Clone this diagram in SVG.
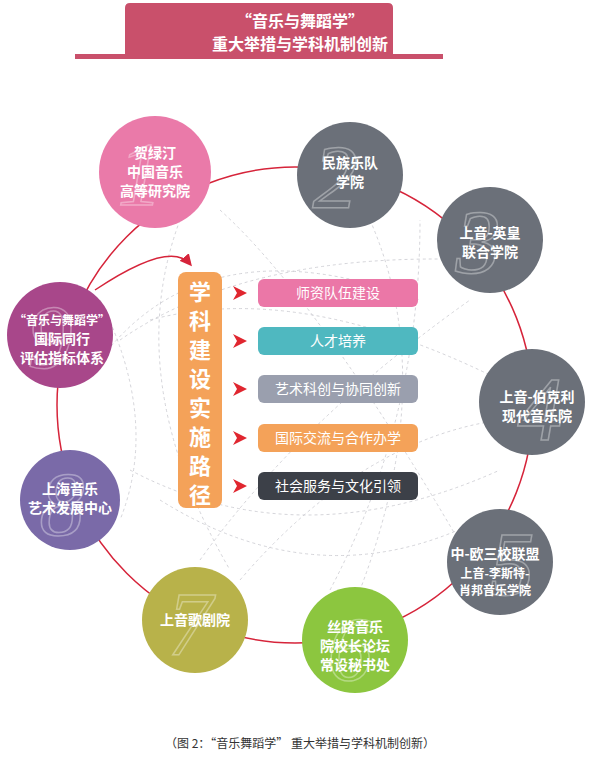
<svg xmlns="http://www.w3.org/2000/svg" width="600" height="765" viewBox="0 0 600 765">
<style>
text{font-family:"Noto Sans CJK SC","Liberation Sans",sans-serif;text-anchor:middle}
.nt{fill:#fff;font-size:14px;font-weight:bold}
.num{font-family:"Liberation Serif",serif;font-size:90px;font-style:italic;fill:none;stroke:#fff;stroke-opacity:.35;stroke-width:1.5}
.bt{fill:#fff;font-size:14px}
.dash{fill:none;stroke:#c9c9cf;stroke-width:.8;stroke-dasharray:3 3}
</style>
<defs><marker id="ah" markerWidth="8" markerHeight="8" refX="6" refY="4" orient="auto"><path d="M0,0 L8,4 L0,8 z" fill="#d6243a"/></marker></defs>
<rect width="600" height="765" fill="#fff"/>
<g id="title">
<path d="M125,58 V8 Q125,3 130,3 H388 Q393,3 393,8 V58 Z" fill="#c9506b"/>
<rect x="75" y="54" width="368" height="5" fill="#c9506b"/>
<text x="300" y="27" style="font-size:16px;font-weight:bold;fill:#fff">“音乐与舞蹈学”</text>
<text x="300" y="50" style="font-size:16px;font-weight:bold;fill:#fff">重大举措与学科机制创新</text>
</g>
<g id="connectors">
<circle cx="295" cy="405" r="238" fill="none" stroke="#d6243a" stroke-width="1.5"/>
<path d="M100,360 Q205,220 420,300" class="dash"/>
<path d="M120,340 Q250,250 480,260" class="dash"/>
<path d="M150,320 Q300,280 500,380" class="dash"/>
<path d="M130,470 Q300,560 500,470" class="dash"/>
<path d="M160,500 Q320,600 480,520" class="dash"/>
<path d="M200,560 Q300,420 470,300" class="dash"/>
<path d="M240,580 Q360,440 500,420" class="dash"/>
<path d="M330,590 Q420,420 420,220" class="dash"/>
<path d="M370,220 Q440,380 360,590" class="dash"/>
<path d="M180,220 Q120,380 230,570" class="dash"/>
<path d="M100,300 Q160,420 120,520" class="dash"/>
<path d="M220,210 Q320,300 470,560" class="dash"/>
<path d="M95,290 Q170,240 190,264" fill="none" stroke="#d6243a" stroke-width="1.5" marker-end="url(#ah)"/>
<g fill="#e0262f">
<path d="M233,286 L247,293 L233,300 L237,293 Z"/>
<path d="M233,334 L247,341 L233,348 L237,341 Z"/>
<path d="M233,382 L247,389 L233,396 L237,389 Z"/>
<path d="M233,431 L247,438 L233,445 L237,438 Z"/>
<path d="M233,479 L247,486 L233,493 L237,486 Z"/>
</g>
</g>
<g id="path-bar">
<rect x="178" y="272" width="44" height="236" rx="8" fill="#f4a259"/>
<g style="font-size:22px;font-weight:bold;fill:#fff">
<text x="200" y="300">学</text><text x="200" y="329">科</text><text x="200" y="358">建</text><text x="200" y="387">设</text><text x="200" y="416">实</text><text x="200" y="445">施</text><text x="200" y="474">路</text><text x="200" y="503">径</text>
</g>
</g>
<g id="b1"><rect x="258" y="279" width="160" height="28" rx="6" fill="#eb77a7"/><text class="bt" x="338" y="298">师资队伍建设</text></g>
<g id="b2"><rect x="258" y="327" width="160" height="28" rx="6" fill="#4fb8c0"/><text class="bt" x="338" y="346">人才培养</text></g>
<g id="b3"><rect x="258" y="375" width="160" height="28" rx="6" fill="#9a9fae"/><text class="bt" x="338" y="394">艺术科创与协同创新</text></g>
<g id="b4"><rect x="258" y="424" width="160" height="28" rx="6" fill="#f4a259"/><text class="bt" x="338" y="443">国际交流与合作办学</text></g>
<g id="b5"><rect x="258" y="472" width="160" height="28" rx="6" fill="#3c4048"/><text class="bt" x="338" y="491">社会服务与文化引领</text></g>
<g id="n1"><circle cx="155" cy="172" r="56" fill="#ea7aa9"/><text class="num" x="140" y="205">1</text><text class="nt" x="155" y="158">贺绿汀</text><text class="nt" x="155" y="177">中国音乐</text><text class="nt" x="155" y="196">高等研究院</text></g>
<g id="n2"><circle cx="350" cy="175" r="53" fill="#6b7079"/><text class="num" x="335" y="208">2</text><text class="nt" x="350" y="168">民族乐队</text><text class="nt" x="350" y="187">学院</text></g>
<g id="n3"><circle cx="490" cy="240" r="53" fill="#6b7079"/><text class="num" x="478" y="273">3</text><text class="nt" x="490" y="238">上音-英皇</text><text class="nt" x="490" y="257">联合学院</text></g>
<g id="n4"><circle cx="532" cy="402" r="53" fill="#6b7079"/><text class="num" x="540" y="440">4</text><text class="nt" x="537" y="402">上音-伯克利</text><text class="nt" x="537" y="421">现代音乐院</text></g>
<g id="n5"><circle cx="500" cy="562" r="53" fill="#6b7079"/><text class="num" x="512" y="595">5</text><text class="nt" x="495" y="559">中-欧三校联盟</text><text class="nt" x="495" y="578" style="font-size:12px">上音-李斯特-</text><text class="nt" x="495" y="595" style="font-size:12px">肖邦音乐学院</text></g>
<g id="n6"><circle cx="355" cy="640" r="53" fill="#8cc63f"/><text class="num" x="350" y="680">6</text><text class="nt" x="355" y="632">丝路音乐</text><text class="nt" x="355" y="651">院校长论坛</text><text class="nt" x="355" y="670">常设秘书处</text></g>
<g id="n7"><circle cx="195" cy="620" r="53" fill="#b8b24a"/><text class="num" x="190" y="655">7</text><text class="nt" x="195" y="625">上音歌剧院</text></g>
<g id="n8"><circle cx="70" cy="500" r="50" fill="#7a6aa8"/><text class="num" x="62" y="535">8</text><text class="nt" x="70" y="494">上海音乐</text><text class="nt" x="70" y="513">艺术发展中心</text></g>
<g id="n9"><circle cx="60" cy="335" r="53" fill="#a8478a"/><text class="num" x="50" y="368">9</text><text class="nt" x="62" y="325" style="font-size:12px">“音乐与舞蹈学”</text><text class="nt" x="62" y="344">国际同行</text><text class="nt" x="62" y="363">评估指标体系</text></g>
<text x="300" y="748" style="font-size:12px;fill:#333">（图 2：“音乐舞蹈学” 重大举措与学科机制创新）</text>
</svg>
